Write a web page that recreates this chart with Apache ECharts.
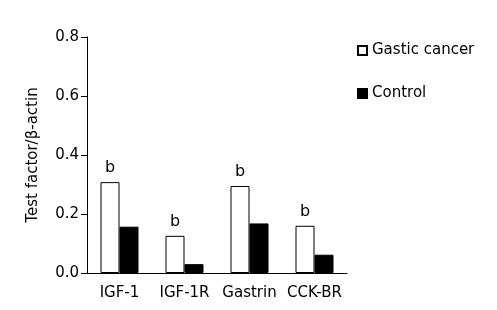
<!DOCTYPE html>
<html>
<head>
<meta charset="utf-8">
<script src="https://cdn.jsdelivr.net/npm/echarts@6/dist/echarts.min.js"></script>
<style>
  html, body { margin: 0; padding: 0; background: #fff; }
  #chart { width: 497px; height: 310px; }
</style>
</head>
<body>
<div id="chart"></div>
<script>
// values
var categories = ['IGF-1', 'IGF-1R', 'Gastrin', 'CCK-BR'];
var cancerValues = [0.308, 0.126, 0.295, 0.16];
var controlValues = [0.157, 0.03, 0.168, 0.062];
var sigMarks = ['b', 'b', 'b', 'b'];
var yTicks = [0, 0.2, 0.4, 0.6, 0.8];

var font = 'DejaVu Sans';
var chart = echarts.init(document.getElementById('chart'));

var option = {
  animation: false,
  backgroundColor: '#fff',
  textStyle: { fontFamily: font, color: '#000' },
  grid: { left: 87, right: 150, top: 37, bottom: 37 },
  legend: {
    orient: 'vertical',
    left: 352,
    top: 38,
    icon: 'rect',
    itemWidth: 9,
    itemHeight: 9,
    itemGap: 28,
    textStyle: { fontFamily: font, fontSize: 15, color: '#000' },
    data: ['Gastic cancer', 'Control']
  },
  xAxis: {
    type: 'category',
    data: categories,
    axisLine: { lineStyle: { color: '#000', width: 1 } },
    axisTick: { inside: true, length: 6, lineStyle: { color: '#000' } },
    axisLabel: { fontFamily: font, fontSize: 15, color: '#000', margin: 13, interval: 0 }
  },
  yAxis: {
    type: 'value',
    min: yTicks[0],
    max: yTicks[yTicks.length - 1],
    interval: 0.2,
    name: 'Test factor/\u03b2-actin',
    nameLocation: 'middle',
    nameGap: 46,
    nameTextStyle: { fontFamily: font, fontSize: 15, color: '#000' },
    axisLine: { show: true, lineStyle: { color: '#000', width: 1 } },
    axisTick: { show: true, length: 6, lineStyle: { color: '#000' } },
    axisLabel: {
      fontFamily: font, fontSize: 15, color: '#000', margin: 8,
      formatter: function (v) { return v.toFixed(1); }
    },
    splitLine: { show: false }
  },
  series: [
    {
      name: 'Gastic cancer',
      type: 'bar',
      barWidth: 19,
      barGap: '0%',
      data: cancerValues,
      itemStyle: { color: '#fff', borderColor: '#000', borderWidth: 1 },
      label: {
        show: true,
        position: 'top',
        distance: 6,
        fontFamily: font,
        fontSize: 16,
        color: '#000',
        formatter: function (p) { return sigMarks[p.dataIndex]; }
      }
    },
    {
      name: 'Control',
      type: 'bar',
      barWidth: 19,
      data: controlValues,
      itemStyle: { color: '#000', borderColor: '#000', borderWidth: 1 }
    }
  ]
};

chart.setOption(option);
</script>
</body>
</html>
